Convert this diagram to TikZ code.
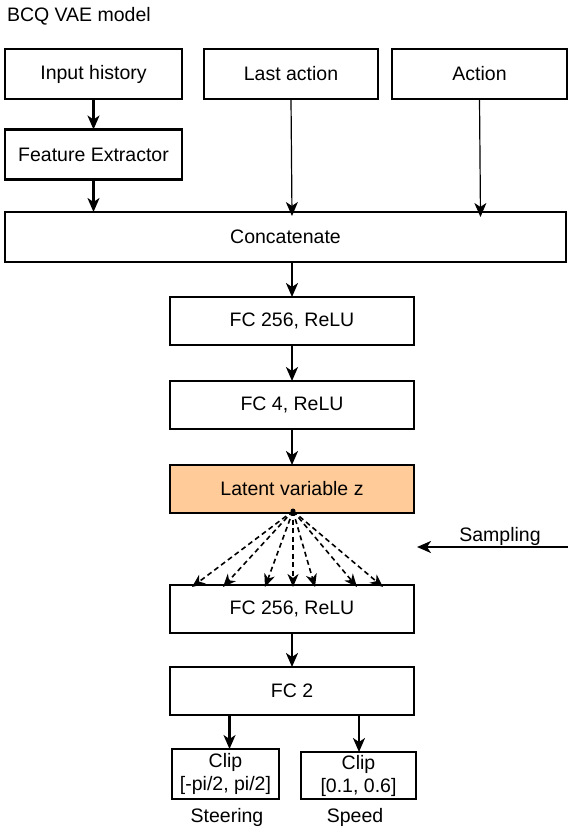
\documentclass[tikz,border=0pt]{standalone}
\usepackage{fontspec}
\setmainfont{Liberation Sans}
\usepackage{tikz}
\usetikzlibrary{arrows.meta}

\newcommand{\bcqfont}{\fontsize{19.5}{23}\selectfont}

\begin{document}
\begin{tikzpicture}[x=1pt,y=-1pt,
    every node/.style={font=\bcqfont,inner sep=0pt,outer sep=0pt},
    box/.style={draw,line width=2.2pt,minimum height=50pt,align=center},
    arr/.style={-{Stealth[length=14pt,width=12pt,inset=4pt]},line width=2.2pt},
    thinarr/.style={arr,line width=1.2pt},
    dsh/.style={-{Stealth[length=13pt,width=11pt,inset=4pt]},line width=1.6pt,dash pattern=on 5pt off 3.5pt}]
            \useasboundingbox (0,0) rectangle (575,832);

            \node[anchor=west] (title) at (7,16) {BCQ VAE model};

            \node[box,minimum width=177pt] (inhist) at (93.5,74) {Input history};
            \node[box,minimum width=174pt] (lastact) at (291,74) {Last action};
            \node[box,minimum width=175pt] (act) at (479.5,74) {Action};
            \node[box,minimum width=177pt] (feat) at (93.5,154.5) {Feature Extractor};
            \node[box,minimum width=561pt] (concat) at (285.5,237) {Concatenate};

            \node[box,minimum width=244pt,minimum height=48pt] (enca) at (292,321) {FC 256, ReLU};
            \node[box,minimum width=244pt,minimum height=48pt] (encb) at (292,405) {FC 4, ReLU};
            \node[box,minimum width=244pt,minimum height=48pt,fill={rgb,255:red,255;green,204;blue,153}] (latent) at (292,489) {Latent variable z};
            \node[box,minimum width=244pt,minimum height=48pt] (deca) at (292,609) {FC 256, ReLU};
            \node[box,minimum width=244pt,minimum height=48pt] (decb) at (292,691) {FC 2};

            \node[box,minimum width=107pt,minimum height=50pt] (clipa) at (225.5,774) {Clip\\{}[-pi/2, pi/2]};
            \node[box,minimum width=115pt,minimum height=47pt] (clipb) at (358.5,775.5) {Clip\\{}[0.1, 0.6]};
            \node (steer) at (227,817) {Steering};
            \node (speed) at (355,817) {Speed};

            \draw[arr] (inhist) -- (feat);
            \draw[arr] (feat.south) -- (feat.south |- concat.north);
            \draw[thinarr] (lastact.south) -- ([xshift=1pt,yshift=-4pt]lastact.south |- concat.north);
            \draw[thinarr] (act.south) -- ([xshift=1pt,yshift=-5pt]act.south |- concat.north);
            \draw[arr] (concat.south -| enca.north) -- (enca.north);
            \draw[arr] (enca) -- (encb);
            \draw[arr] (encb) -- (latent);

            % sampled z fans out to the decoder
            \coordinate (zpt) at ([xshift=1pt,yshift=2pt]latent.south);
            \foreach \d in {-100,-69,-27,1,23,65,91}{
                \draw[dsh] (zpt) -- ([xshift=\d pt,yshift=-2pt]deca.north);
            }
            \fill (zpt) circle (2.5pt);

            \coordinate (sampfrom) at (568,547);
            \coordinate (sampto) at (417,547);
            \draw[arr] (sampfrom) -- (sampto);
            \node (samp) at (500,536) {Sampling};

            \draw[arr] (deca) -- (decb);
            \draw[arr] ([xshift=4pt]clipa.north |- decb.south) -- ([xshift=4pt]clipa.north);
            \draw[arr] ([xshift=0.5pt]clipb.north |- decb.south) -- ([xshift=0.5pt]clipb.north);
        \end{tikzpicture}
\end{document}
